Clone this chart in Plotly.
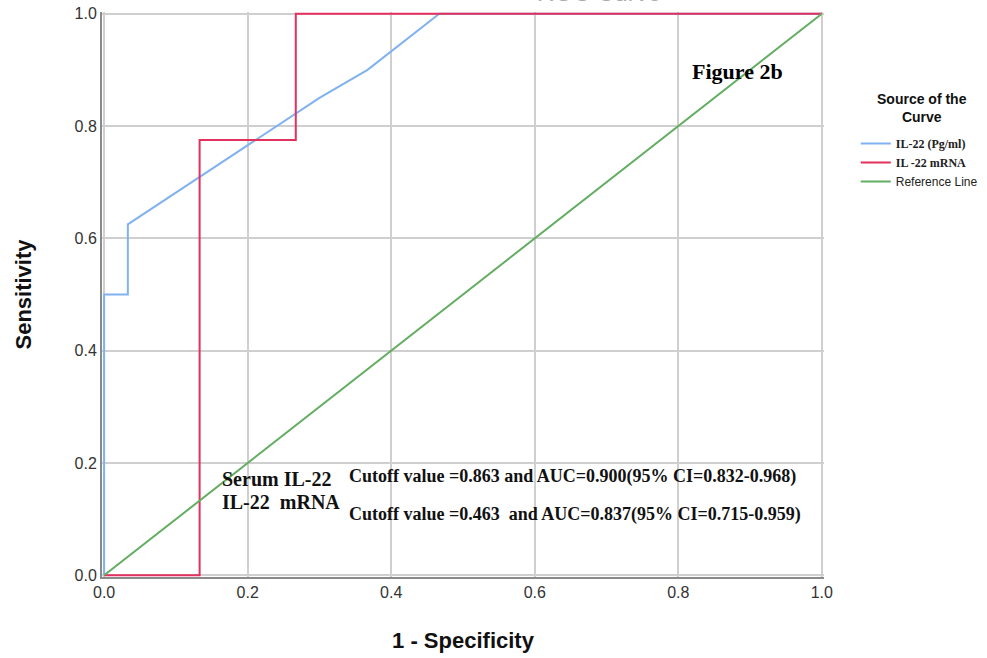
import plotly.graph_objects as go

# ROC data (1 - specificity, sensitivity)
serum_x = [0.0, 0.0, 0.033, 0.033, 0.3, 0.367, 0.467, 1.0]
serum_y = [0.0, 0.5, 0.5, 0.625, 0.85, 0.9, 1.0, 1.0]
mrna_x = [0.0, 0.133, 0.133, 0.267, 0.267, 1.0]
mrna_y = [0.0, 0.0, 0.775, 0.775, 1.0, 1.0]
ref_x = [0.0, 1.0]
ref_y = [0.0, 1.0]
ticks = [0.0, 0.2, 0.4, 0.6, 0.8, 1.0]
tick_labels = ["0.0", "0.2", "0.4", "0.6", "0.8", "1.0"]

SERIF = "Liberation Serif, Times New Roman, serif"
SANS = "Liberation Sans, Arial, sans-serif"

fig = go.Figure()
fig.add_trace(go.Scatter(
    x=serum_x, y=serum_y, mode="lines",
    line=dict(color="#80b2ef", width=2),
    name='<span style="font-family:Liberation Serif"><b>IL-22 (Pg/ml)</b></span>'))
fig.add_trace(go.Scatter(
    x=mrna_x, y=mrna_y, mode="lines",
    line=dict(color="#e2305f", width=2),
    name='<span style="font-family:Liberation Serif"><b>IL -22 mRNA</b></span>'))
fig.add_trace(go.Scatter(
    x=ref_x, y=ref_y, mode="lines",
    line=dict(color="#62ad62", width=2),
    name="Reference Line"))

fig.update_layout(
    width=987, height=658,
    margin=dict(l=102, r=163, t=12, b=81, autoexpand=False),
    paper_bgcolor="white", plot_bgcolor="white",
    font=dict(family=SANS, color="#222222"),
    legend=dict(
        x=1.044, y=0.793, xanchor="left", yanchor="top",
        font=dict(family=SANS, size=12, color="#222222"),
        tracegroupgap=0, itemwidth=30,
        bgcolor="rgba(0,0,0,0)",
    ),
    xaxis=dict(
        range=[-0.003, 1.003], tickvals=ticks, ticktext=tick_labels,
        showgrid=True, gridcolor="#cfcfcf", gridwidth=2, automargin=False,
        zeroline=False, showline=True, linecolor="#8a8a8a", linewidth=2,
        ticks="", tickfont=dict(family=SANS, size=16, color="#333333"),
        title=dict(text="<b>1 - Specificity</b>", standoff=32,
                   font=dict(family=SANS, size=22, color="#111111")),
    ),
    yaxis=dict(
        range=[-0.003, 1.003], tickvals=ticks, ticktext=tick_labels,
        showgrid=True, gridcolor="#cfcfcf", gridwidth=2, automargin=False,
        zeroline=False, showline=True, linecolor="#8a8a8a", linewidth=2,
        ticks="", tickfont=dict(family=SANS, size=16, color="#333333"),
        title=dict(text="<b>Sensitivity</b>", standoff=37,
                   font=dict(family=SANS, size=22, color="#111111")),
    ),
)

# legend heading
fig.add_annotation(text="<b>Source of the<br>Curve</b>", xref="paper", yref="paper",
                   x=1.1357, y=0.830, xanchor="center", yanchor="middle", align="center",
                   showarrow=False, font=dict(family=SANS, size=14, color="#111111"))

# partially visible title at the very top
fig.add_annotation(text="ROC Curve", xref="x", yref="paper",
                   x=0.69, y=1.0, yshift=4, xanchor="center", yanchor="bottom",
                   showarrow=False, font=dict(family=SANS, size=24, color="#aaaaaa"))

fig.add_annotation(text="<b>Figure 2b</b>", xref="x", yref="y",
                   x=0.883, y=0.897, xanchor="center", yanchor="middle",
                   showarrow=False, font=dict(family=SERIF, size=22, color="#000000"))

fig.add_annotation(text="<b>Serum IL-22</b>", xref="x", yref="y",
                   x=0.161, y=0.172, xanchor="left", yanchor="middle",
                   showarrow=False, font=dict(family=SERIF, size=20, color="#111111"))
fig.add_annotation(text="<b>IL-22  mRNA</b>", xref="x", yref="y",
                   x=0.161, y=0.131, xanchor="left", yanchor="middle",
                   showarrow=False, font=dict(family=SERIF, size=20, color="#111111"))
fig.add_annotation(text="<b>Cutoff value =0.863 and AUC=0.900(95% CI=0.832-0.968)</b>",
                   xref="x", yref="y", x=0.339, y=0.176, xanchor="left", yanchor="middle",
                   showarrow=False, font=dict(family=SERIF, size=18, color="#111111"))
fig.add_annotation(text="<b>Cutoff value =0.463  and AUC=0.837(95% CI=0.715-0.959)</b>",
                   xref="x", yref="y", x=0.339, y=0.109, xanchor="left", yanchor="middle",
                   showarrow=False, font=dict(family=SERIF, size=18, color="#111111"))

fig.write_html("out.html", config={"displayModeBar": False},
               post_script="document.body.style.margin='0px';")
